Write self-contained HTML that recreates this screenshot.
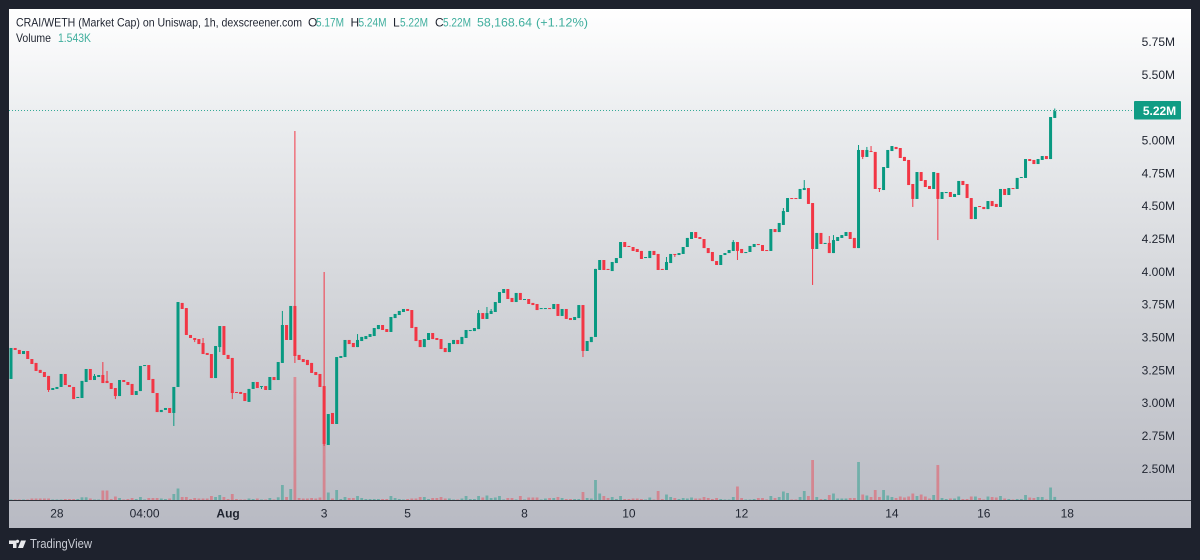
<!DOCTYPE html>
<html lang="en">
<head>
<meta charset="utf-8">
<title>CRAI/WETH chart</title>
<style>
html,body{margin:0;padding:0;width:1200px;height:560px;background:#1e222d;overflow:hidden}
svg{display:block;font-family:"Liberation Sans",sans-serif}
</style>
</head>
<body>
<svg id="chart" xmlns="http://www.w3.org/2000/svg" width="1200" height="560" viewBox="0 0 1200 560">
  <defs>
    <linearGradient id="panelFill" x1="0" y1="0" x2="0" y2="1">
      <stop offset="0" stop-color="#ffffff"/>
      <stop offset="0.2" stop-color="#eceef0"/>
      <stop offset="0.65" stop-color="#cdcfd4"/>
      <stop offset="1" stop-color="#b8bac3"/>
    </linearGradient>
  </defs>
  <rect x="9" y="9" width="1182" height="519" fill="url(#panelFill)"/>
  <g id="volumes"></g>
  <line x1="9" y1="500.5" x2="1191" y2="500.5" stroke="#2e313a" stroke-width="1"/>
  <line x1="9" y1="110.5" x2="1134" y2="110.5" stroke="#089981" stroke-opacity="0.8" stroke-width="1" stroke-dasharray="1 2"/>
  <g id="candles"></g>
  <g id="price-axis"></g>
  <g id="time-axis"></g>
  <g>
    <rect x="1134" y="101" width="47" height="18.5" rx="1" fill="#109c84"/>
    <text x="1159.5" y="115" font-size="12" font-weight="bold" fill="#ffffff" text-anchor="middle">5.22M</text>
  </g>
  <g font-size="12" fill="#1f2430">
    <text x="16" y="26.5" textLength="286" lengthAdjust="spacingAndGlyphs">CRAI/WETH (Market Cap) on Uniswap, 1h, dexscreener.com</text>
    <text x="308" y="26.5">O</text>
    <text x="316" y="26.5" fill="#3fae9d" textLength="28" lengthAdjust="spacingAndGlyphs">5.17M</text>
    <text x="350.5" y="26.5">H</text>
    <text x="358.5" y="26.5" fill="#3fae9d" textLength="28" lengthAdjust="spacingAndGlyphs">5.24M</text>
    <text x="393" y="26.5">L</text>
    <text x="400" y="26.5" fill="#3fae9d" textLength="28" lengthAdjust="spacingAndGlyphs">5.22M</text>
    <text x="435" y="26.5">C</text>
    <text x="443" y="26.5" fill="#3fae9d" textLength="28" lengthAdjust="spacingAndGlyphs">5.22M</text>
    <text x="477" y="26.5" fill="#3fae9d" textLength="55" lengthAdjust="spacingAndGlyphs">58,168.64</text>
    <text x="536" y="26.5" fill="#3fae9d" textLength="52" lengthAdjust="spacingAndGlyphs">(+1.12%)</text>
    <text x="16" y="42" textLength="35" lengthAdjust="spacingAndGlyphs">Volume</text>
    <text x="58" y="42" fill="#3fae9d" textLength="33" lengthAdjust="spacingAndGlyphs">1.543K</text>
  </g>
  <g>
    <path fill="#e8e9ec" d="M9 540.5h7.5v7.5h-3.5v-4h-4zM17.5 543a1.7 1.7 0 1 1 .01 0zM21 540.5h5l-3 7.5h-5z"/>
    <text x="30" y="548" font-size="13" fill="#c9ccd4" textLength="62" lengthAdjust="spacingAndGlyphs">TradingView</text>
  </g>
</svg>
<script>
const opens = [
3.180,3.416,3.401,3.370,3.393,3.332,3.302,3.249,3.233,3.203,
3.096,3.104,3.119,3.218,3.134,3.119,3.035,3.035,3.157,3.256,
3.172,3.195,3.210,3.165,3.149,3.111,3.050,3.172,3.157,3.142,
3.058,3.088,3.279,3.286,3.180,3.073,2.928,2.944,2.959,2.921,
3.119,3.759,3.720,3.515,3.492,3.484,3.454,3.378,3.370,3.187,
3.423,3.583,3.363,3.340,3.081,3.081,3.073,3.005,3.104,3.157,
3.119,3.126,3.096,3.195,3.172,3.302,3.591,3.477,3.736,3.363,
3.332,3.325,3.302,3.233,3.218,3.126,2.677,2.921,2.837,3.340,
3.347,3.477,3.454,3.423,3.469,3.484,3.500,3.507,3.560,3.591,
3.560,3.538,3.644,3.667,3.690,3.713,3.705,3.576,3.477,3.423,
3.477,3.530,3.492,3.484,3.416,3.385,3.446,3.477,3.446,3.492,
3.545,3.545,3.560,3.682,3.637,3.675,3.690,3.759,3.835,3.865,
3.797,3.766,3.835,3.782,3.789,3.759,3.751,3.713,3.713,3.720,
3.713,3.751,3.660,3.713,3.644,3.629,3.644,3.743,3.393,3.461,
3.500,4.010,4.086,4.018,4.002,4.063,4.101,4.223,4.193,4.185,
4.170,4.155,4.101,4.101,4.155,4.132,4.018,4.010,4.063,4.132,
4.124,4.132,4.185,4.246,4.299,4.261,4.246,4.177,4.147,4.078,
4.048,4.124,4.139,4.155,4.223,4.170,4.139,4.147,4.185,4.208,
4.200,4.162,4.155,4.322,4.299,4.353,4.452,4.558,4.558,4.551,
4.619,4.634,4.520,4.170,4.292,4.208,4.216,4.139,4.231,4.254,
4.269,4.299,4.254,4.177,4.924,4.871,4.916,4.909,4.634,4.619,
4.787,4.916,4.947,4.939,4.871,4.848,4.665,4.551,4.756,4.695,
4.650,4.627,4.749,4.551,4.596,4.604,4.566,4.581,4.688,4.665,
4.558,4.398,4.497,4.490,4.474,4.535,4.513,4.490,4.627,4.581,
4.634,4.627,4.711,4.711,4.855,4.848,4.817,4.848,4.878,4.855,5.168];
const closes = [
3.416,3.401,3.370,3.393,3.332,3.294,3.241,3.226,3.195,3.096,
3.111,3.119,3.218,3.134,3.119,3.027,3.043,3.165,3.256,3.172,
3.203,3.210,3.149,3.149,3.104,3.050,3.172,3.157,3.134,3.058,
3.088,3.279,3.286,3.172,3.073,2.928,2.944,2.959,2.921,3.119,
3.766,3.713,3.515,3.492,3.477,3.446,3.370,3.363,3.187,3.431,
3.583,3.363,3.332,3.073,3.073,3.066,3.012,3.104,3.157,3.111,
3.126,3.096,3.195,3.172,3.309,3.591,3.477,3.736,3.355,3.325,
3.309,3.286,3.226,3.210,3.119,2.685,2.913,2.837,3.347,3.355,
3.477,3.446,3.423,3.477,3.500,3.507,3.522,3.568,3.591,3.553,
3.538,3.652,3.675,3.698,3.713,3.698,3.568,3.469,3.423,3.484,
3.530,3.484,3.477,3.408,3.385,3.454,3.477,3.446,3.500,3.553,
3.553,3.568,3.682,3.637,3.682,3.698,3.766,3.842,3.865,3.789,
3.766,3.835,3.782,3.789,3.751,3.743,3.705,3.720,3.720,3.713,
3.751,3.660,3.713,3.637,3.629,3.652,3.743,3.393,3.469,3.500,
4.018,4.086,4.010,4.010,4.071,4.101,4.223,4.185,4.185,4.155,
4.147,4.094,4.109,4.155,4.124,4.010,4.010,4.071,4.132,4.124,
4.139,4.185,4.254,4.299,4.254,4.246,4.177,4.139,4.078,4.048,
4.124,4.139,4.162,4.223,4.155,4.139,4.147,4.193,4.208,4.200,
4.155,4.155,4.322,4.299,4.368,4.459,4.558,4.551,4.551,4.627,
4.634,4.513,4.170,4.292,4.208,4.216,4.139,4.238,4.261,4.276,
4.299,4.246,4.177,4.924,4.871,4.924,4.909,4.627,4.627,4.794,
4.924,4.954,4.931,4.863,4.840,4.657,4.551,4.756,4.688,4.642,
4.627,4.756,4.551,4.604,4.604,4.566,4.589,4.688,4.657,4.558,
4.398,4.490,4.490,4.474,4.535,4.497,4.490,4.627,4.581,4.634,
4.627,4.711,4.718,4.855,4.840,4.817,4.855,4.878,4.855,5.175,5.220];
const highs = [
3.416,3.416,3.401,3.393,3.393,3.332,3.302,3.249,3.233,3.203,
3.111,3.119,3.218,3.218,3.134,3.119,3.043,3.165,3.256,3.256,
3.218,3.210,3.309,3.241,3.149,3.111,3.172,3.172,3.157,3.142,
3.088,3.279,3.286,3.286,3.180,3.073,2.944,2.959,2.959,3.119,
3.766,3.759,3.720,3.515,3.492,3.484,3.492,3.378,3.370,3.431,
3.583,3.583,3.363,3.340,3.081,3.081,3.073,3.104,3.157,3.157,
3.126,3.126,3.195,3.195,3.309,3.698,3.591,3.736,5.069,3.363,
3.332,3.325,3.302,3.233,3.218,3.995,2.913,2.921,3.347,3.355,
3.477,3.477,3.454,3.522,3.500,3.507,3.522,3.568,3.591,3.591,
3.560,3.652,3.675,3.698,3.713,3.713,3.705,3.576,3.477,3.484,
3.530,3.530,3.492,3.484,3.416,3.454,3.477,3.477,3.500,3.553,
3.553,3.568,3.705,3.682,3.728,3.713,3.766,3.842,3.865,3.865,
3.797,3.835,3.835,3.789,3.789,3.759,3.751,3.720,3.720,3.720,
3.751,3.751,3.713,3.713,3.644,3.652,3.743,3.743,3.469,3.500,
4.018,4.086,4.086,4.018,4.071,4.101,4.223,4.223,4.193,4.185,
4.170,4.155,4.109,4.155,4.155,4.132,4.018,4.109,4.132,4.132,
4.139,4.185,4.254,4.299,4.299,4.261,4.246,4.177,4.147,4.078,
4.124,4.139,4.162,4.238,4.223,4.170,4.147,4.193,4.208,4.208,
4.200,4.162,4.322,4.322,4.368,4.482,4.558,4.558,4.558,4.627,
4.695,4.634,4.520,4.292,4.292,4.216,4.269,4.276,4.261,4.276,
4.299,4.299,4.254,4.962,4.924,4.947,4.954,4.909,4.634,4.794,
4.924,4.954,4.947,4.939,4.871,4.848,4.665,4.756,4.756,4.695,
4.650,4.756,4.749,4.604,4.604,4.604,4.589,4.688,4.688,4.665,
4.558,4.490,4.497,4.490,4.535,4.535,4.513,4.627,4.627,4.634,
4.634,4.711,4.718,4.855,4.855,4.848,4.855,4.878,4.878,5.175,5.240];
const lows = [
3.180,3.401,3.370,3.370,3.332,3.294,3.241,3.226,3.195,3.081,
3.096,3.104,3.119,3.134,3.119,3.027,3.035,3.035,3.157,3.172,
3.172,3.195,3.149,3.149,3.104,3.027,3.050,3.157,3.134,3.058,
3.058,3.088,3.279,3.172,3.073,2.928,2.928,2.944,2.921,2.822,
3.119,3.713,3.515,3.492,3.461,3.446,3.370,3.363,3.187,3.187,
3.385,3.363,3.332,3.027,3.073,3.066,3.012,3.005,3.104,3.111,
3.104,3.096,3.096,3.172,3.172,3.302,3.477,3.477,3.302,3.325,
3.309,3.286,3.226,3.210,3.119,2.669,2.677,2.837,2.837,3.340,
3.347,3.446,3.423,3.423,3.469,3.484,3.500,3.507,3.560,3.553,
3.538,3.538,3.644,3.667,3.690,3.698,3.568,3.469,3.423,3.423,
3.477,3.484,3.477,3.408,3.385,3.385,3.446,3.446,3.446,3.492,
3.545,3.545,3.560,3.637,3.637,3.675,3.690,3.759,3.835,3.789,
3.766,3.766,3.782,3.782,3.751,3.743,3.705,3.713,3.713,3.713,
3.713,3.660,3.660,3.637,3.629,3.629,3.644,3.347,3.393,3.461,
3.500,4.010,4.010,4.010,4.002,4.063,4.101,4.185,4.185,4.155,
4.147,4.094,4.101,4.101,4.124,4.010,4.010,4.010,4.063,4.109,
4.124,4.132,4.185,4.246,4.254,4.246,4.177,4.139,4.078,4.048,
4.048,4.124,4.139,4.155,4.086,4.139,4.139,4.147,4.185,4.200,
4.155,4.155,4.155,4.299,4.299,4.353,4.452,4.551,4.551,4.551,
4.619,4.513,3.896,4.170,4.208,4.208,4.139,4.139,4.231,4.254,
4.269,4.246,4.177,4.177,4.855,4.871,4.909,4.627,4.604,4.619,
4.787,4.916,4.931,4.863,4.840,4.657,4.490,4.551,4.688,4.642,
4.627,4.627,4.238,4.551,4.596,4.566,4.566,4.581,4.657,4.558,
4.398,4.398,4.490,4.474,4.474,4.497,4.490,4.490,4.581,4.581,
4.627,4.627,4.711,4.711,4.840,4.817,4.817,4.848,4.855,4.855,5.168];
const volumes = [
0.25,0.25,0.25,0.25,0.25,0.75,0.75,0.75,0.75,0.75,
0.25,0.25,0.25,0.5,0.5,0.5,0.5,1.35,1.35,0.75,
0.25,0.25,4.75,4.75,0.5,1.75,1,0.25,0.5,1,
0.5,1.5,0.25,1,1,1,0.75,0.5,0.75,3,
5.75,1.5,1.5,0.5,1,0.75,0.75,0.75,2,1.5,
2.5,1.5,0.5,3,0.5,0.25,0.25,0.75,0.5,0.75,
0.25,0.25,1,0.25,1.35,7.5,1.5,5.5,61.5,1,
0.75,0.75,1,0.75,1.25,56,3.75,0.75,5,0.5,
1.5,1,1,2,1,0.5,0.5,0.5,0.5,0.5,
0.5,2,1,0.5,0.25,0.5,0.75,0.75,1.5,1.5,
0.5,1,1,1.5,0.75,0.75,0.25,0.25,0.75,2,
0.5,0.5,2,1.25,2.25,1,1.25,2,0.25,1,
1,0.25,2,0.25,1.25,1.25,1.25,0.25,0.75,1,
1,1.5,1,0.5,0.5,0.5,0.5,4,1,0.75,
10,3.25,2,1,1.5,0.5,2,0.5,0.5,0.75,
0.75,0.5,0.25,1.25,0.25,4.5,0.5,2.75,1.5,1,
0.5,1,0.75,1.25,0.75,0.75,1.5,1,0.5,1,
0.5,0.25,0.25,1.5,6.75,1,0.25,0.25,0.5,1,
1,0.25,2,1,1.5,4.25,3.5,0.25,0.25,1.5,
4.5,2,20,1.5,0.5,0.5,2.5,3.25,0.75,0.75,
0.75,1,1,19,2.75,2.25,1.5,5,1.5,5,
2.25,1.5,1,1.75,1.25,1.75,3.25,2,2.75,1.75,
0.75,2.5,17.5,1,0.5,0.75,0.75,1.75,0.5,0.5,
1.75,1.75,1,0.25,1.75,1.5,1.25,2,0.75,0.5,
0.25,0.5,0.5,2.5,1.25,1,1.5,1.5,0.25,6.25,1.543];
const priceTicks = [5.75,5.5,5,4.75,4.5,4.25,4,3.75,3.5,3.25,3,2.75,2.5];
const timeLabels = ["28","04:00","Aug","3","5","8","10","12","14","16","18"];
const timeLabelBars = [11,32,52,75,95,123,148,175,211,233,253];

const NS = "http://www.w3.org/2000/svg";
const BAR_STEP = 4.175;
const BAR_ORIGIN = 11;
const PRICE_ANCHOR_Y = 140;
const PX_PER_MILLION = 131.3;
const VOLUME_BASE_Y = 500;
const PX_PER_K = 2;
const UP_COLOR = "#089981";
const DOWN_COLOR = "#f23645";

function xScale(i){ return BAR_ORIGIN + BAR_STEP * i; }
function yPrice(p){ return PRICE_ANCHOR_Y + (5 - p) * PX_PER_MILLION; }
function yVolume(v){ return VOLUME_BASE_Y - v * PX_PER_K; }

const volumeLayer = document.getElementById("volumes");
const candleLayer = document.getElementById("candles");
const priceAxis = document.getElementById("price-axis");
const timeAxis = document.getElementById("time-axis");

volumes.forEach(function(v, i){
  const up = closes[i] >= opens[i];
  const top = yVolume(v);
  const bar = document.createElementNS(NS, "rect");
  
  
  bar.setAttribute("x", xScale(i) - 1.4);
  bar.setAttribute("y", top);
  bar.setAttribute("width", 2.8);
  bar.setAttribute("height", Math.max(VOLUME_BASE_Y - top, 0));
  bar.setAttribute("fill", up ? UP_COLOR : DOWN_COLOR);
  bar.setAttribute("fill-opacity", "0.42");
  volumeLayer.appendChild(bar);
});

opens.forEach(function(o, i){
  const c = closes[i];
  const up = c >= o;
  const color = up ? UP_COLOR : DOWN_COLOR;
  const x = xScale(i);
  const g = document.createElementNS(NS, "g");
  
  
  const wick = document.createElementNS(NS, "line");
  
  
  wick.setAttribute("x1", x);
  wick.setAttribute("x2", x);
  wick.setAttribute("y1", yPrice(highs[i]));
  wick.setAttribute("y2", yPrice(lows[i]));
  wick.setAttribute("stroke", color);
  wick.setAttribute("stroke-width", "1");
  g.appendChild(wick);
  const bodyTop = Math.min(yPrice(o), yPrice(c));
  const bodyH = Math.abs(yPrice(o) - yPrice(c));
  const body = document.createElementNS(NS, "rect");
  
  
  body.setAttribute("x", x - 1.5);
  body.setAttribute("y", bodyTop);
  body.setAttribute("width", 3);
  body.setAttribute("height", Math.max(bodyH, 1));
  body.setAttribute("fill", color);
  g.appendChild(body);
  candleLayer.appendChild(g);
});

priceTicks.forEach(function(p){
  const t = document.createElementNS(NS, "text");
  
  
  t.setAttribute("x", 1175);
  t.setAttribute("y", yPrice(p) + 4.5);
  t.setAttribute("text-anchor", "end");
  t.setAttribute("font-size", "12");
  t.setAttribute("fill", "#1f2430");
  t.textContent = p.toFixed(2) + "M";
  priceAxis.appendChild(t);
});

timeLabels.forEach(function(label, i){
  const t = document.createElementNS(NS, "text");
  
  
  t.setAttribute("x", xScale(timeLabelBars[i]));
  t.setAttribute("y", 517.5);
  t.setAttribute("text-anchor", "middle");
  t.setAttribute("font-size", "12");
  t.setAttribute("fill", "#1f2430");
  if (label === "Aug") t.setAttribute("font-weight", "bold");
  t.textContent = label;
  timeAxis.appendChild(t);
});
</script>
</body>
</html>
